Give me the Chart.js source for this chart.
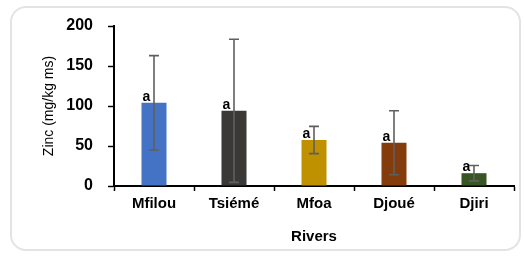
<!DOCTYPE html>
<html>
<head>
<meta charset="utf-8">
<script src="https://cdn.jsdelivr.net/npm/chart.js@4"></script>
<style>
  html, body { margin: 0; padding: 0; background: #fff; }
  #wrap { position: relative; width: 525px; height: 257px; }
  #frame { position: absolute; left: 10px; top: 6px; width: 511px; height: 245px;
           border: 2px solid #e3e3e3; border-radius: 16px; box-sizing: border-box; }
  canvas { position: absolute; left: 0; top: 0; }
</style>
</head>
<body>
<div id="wrap">
  <div id="frame"></div>
  <canvas id="c" width="525" height="257"></canvas>
</div>
<script>
const rivers = ['Mfilou', 'Tsiémé', 'Mfoa', 'Djoué', 'Djiri'];
const zincMeans = [104, 94, 57.5, 54, 16];
const zincErrors = [59, 89.5, 17, 40, 9.6];
const groupLetters = ['a', 'a', 'a', 'a', 'a'];
const barColors = ['#4472C4', '#3B3838', '#BF9000', '#843C0C', '#375623'];
const yTicks = [0, 50, 100, 150, 200];

const FONT = "'Liberation Sans', Arial, sans-serif";

const errorBarPlugin = {
  id: 'errorBars',
  afterDatasetsDraw(chart) {
    const ctx = chart.ctx;
    const meta = chart.getDatasetMeta(0);
    const y = chart.scales.y;
    ctx.save();
    ctx.fillStyle = '#000';
    ctx.font = 'bold 14px ' + FONT;
    ctx.textAlign = 'left';
    ctx.textBaseline = 'alphabetic';
    meta.data.forEach((bar, i) => {
      const left = bar.x - bar.width / 2;
      ctx.fillText(groupLetters[i], left + 1, bar.y - 2);
    });
    ctx.strokeStyle = '#5f5f5f';
    ctx.lineWidth = 1.6;
    meta.data.forEach((bar, i) => {
      const top = y.getPixelForValue(zincMeans[i] + zincErrors[i]);
      const bot = y.getPixelForValue(zincMeans[i] - zincErrors[i]);
      const x = bar.x;
      const cap = 5;
      ctx.beginPath();
      ctx.moveTo(x, top); ctx.lineTo(x, bot);
      ctx.moveTo(x - cap, top); ctx.lineTo(x + cap, top);
      ctx.moveTo(x - cap, bot); ctx.lineTo(x + cap, bot);
      ctx.stroke();
    });
    ctx.restore();
  }
};

new Chart(document.getElementById('c'), {
  type: 'bar',
  data: {
    labels: rivers,
    datasets: [{
      data: zincMeans,
      backgroundColor: barColors,
      borderWidth: 0,
      categoryPercentage: 1,
      barPercentage: 0.3125
    }]
  },
  options: {
    responsive: false,
    animation: false,
    events: [],
    layout: { padding: { top: 26, right: 11, bottom: 0, left: 0 } },
    plugins: { legend: { display: false }, tooltip: { enabled: false } },
    scales: {
      x: {
        grid: { display: true, drawOnChartArea: false, color: '#000', tickLength: 5, tickWidth: 1.5, offset: true },
        border: { display: true, color: '#000', width: 2 },
        ticks: { color: '#000', font: { family: FONT, size: 15, weight: 'bold' }, padding: 4, maxRotation: 0 },
        title: { display: true, text: 'Rivers', color: '#000', font: { family: FONT, size: 15, weight: 'bold' }, padding: { top: 0, bottom: 11 } },
        afterFit(s) { s.height = 71; }
      },
      y: {
        min: 0, max: 200,
        afterBuildTicks(s) { s.ticks = yTicks.map(v => ({ value: v })); },
        grid: { display: true, drawOnChartArea: false, color: '#000', tickLength: 6, tickWidth: 1.5 },
        border: { display: true, color: '#000', width: 2 },
        ticks: { color: '#000', font: { family: FONT, size: 16, weight: 'bold' }, padding: 15 },
        title: { display: true, text: 'Zinc (mg/kg ms)', color: '#000', font: { family: FONT, size: 14 }, padding: { top: 41, bottom: 0 } },
        afterFit(s) { s.width = 114; }
      }
    }
  },
  plugins: [errorBarPlugin]
});
</script>
</body>
</html>
